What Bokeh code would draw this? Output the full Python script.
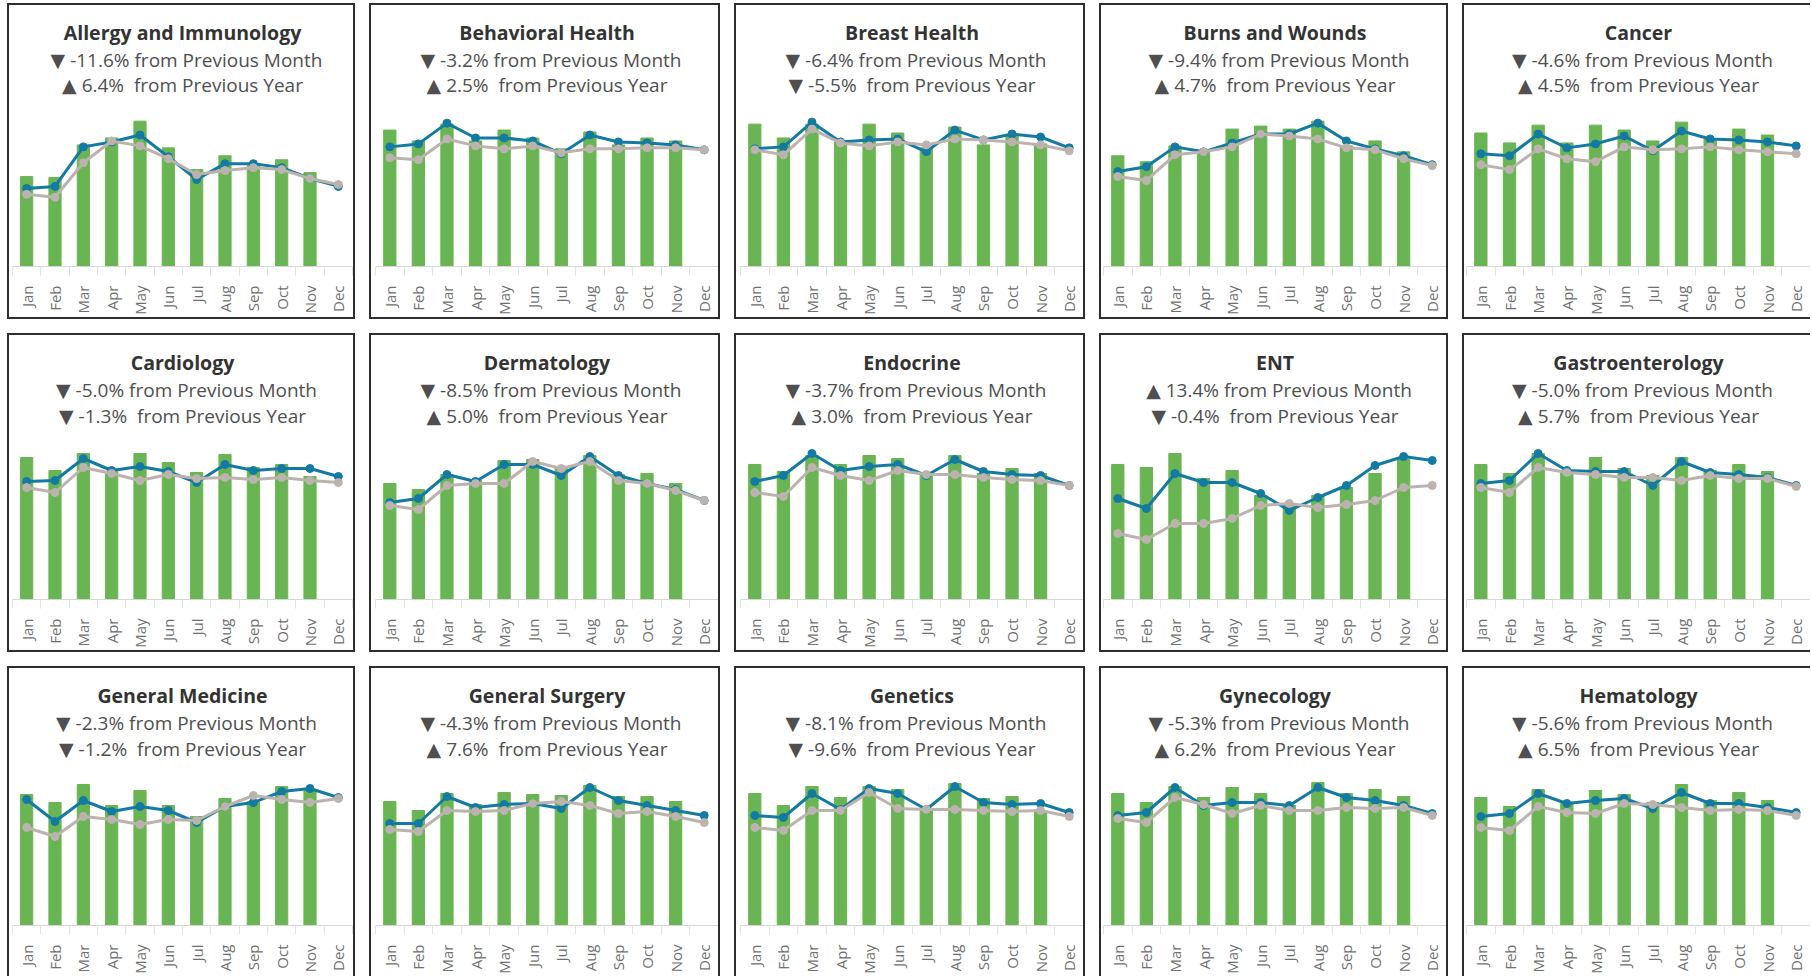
import math
from bokeh.plotting import figure
from bokeh.models import Range1d, FixedTicker
from bokeh.layouts import row, column
from bokeh.embed import file_html
from bokeh.resources import INLINE
from bokeh.core.properties import value

months = ["Jan", "Feb", "Mar", "Apr", "May", "Jun", "Jul", "Aug", "Sep", "Oct", "Nov", "Dec"]

departments = ["Allergy and Immunology", "Behavioral Health", "Breast Health", "Burns and Wounds", "Cancer",
               "Cardiology", "Dermatology", "Endocrine", "ENT", "Gastroenterology",
               "General Medicine", "General Surgery", "Genetics", "Gynecology", "Hematology"]

mom_change = [-11.6, -3.2, -6.4, -9.4, -4.6, -5.0, -8.5, -3.7, 13.4, -5.0, -2.3, -4.3, -8.1, -5.3, -5.6]
yoy_change = [6.4, 2.5, -5.5, 4.7, 4.5, -1.3, 5.0, 3.0, -0.4, 5.7, -1.2, 7.6, -9.6, 6.2, 6.5]

# bars = current year volume (Jan-Nov), trend = blue line, prior = grey line
bars_allergy = [91, 90, 123, 130, 147, 120, 98, 112, 102, 108, 95]
trend_allergy = [79, 81, 121, 126, 133, 111, 88, 104, 104, 100, 89, 81]
prior_allergy = [73, 70, 105, 127, 122, 109, 93, 97, 100, 98, 89, 83]

bars_behavioral = [138, 127, 144, 127, 138, 130, 119, 136, 123, 130, 127]
trend_behavioral = [121, 124, 145, 130, 130, 127, 114, 133, 126, 125, 123, 118]
prior_behavioral = [110, 108, 129, 122, 119, 122, 115, 119, 119, 120, 120, 118]

bars_breast = [144, 130, 144, 126, 144, 135, 120, 141, 123, 133, 124]
trend_breast = [119, 121, 146, 126, 128, 129, 116, 138, 128, 134, 131, 120]
prior_breast = [118, 113, 139, 125, 122, 126, 123, 129, 128, 126, 123, 117]

bars_burns = [112, 106, 122, 116, 139, 142, 139, 147, 122, 127, 116]
trend_burns = [96, 101, 121, 116, 125, 134, 134, 145, 127, 119, 112, 103]
prior_burns = [91, 87, 113, 116, 121, 134, 132, 129, 120, 118, 109, 102]

bars_cancer = [135, 125, 143, 125, 143, 138, 127, 146, 129, 139, 133]
trend_cancer = [114, 112, 134, 120, 124, 132, 117, 137, 129, 128, 126, 122]
prior_cancer = [103, 98, 119, 109, 106, 121, 118, 119, 121, 118, 116, 114]

bars_cardiology = [142, 129, 146, 128, 146, 137, 127, 145, 132, 135, 123]
trend_cardiology = [118, 119, 141, 129, 133, 128, 117, 135, 129, 131, 131, 123]
prior_cardiology = [112, 107, 132, 126, 119, 125, 121, 122, 120, 122, 119, 117]

bars_dermatology = [116, 110, 125, 119, 139, 140, 133, 144, 125, 126, 116]
trend_dermatology = [97, 101, 125, 118, 135, 135, 124, 143, 124, 116, 110, 99]
prior_dermatology = [94, 90, 114, 116, 116, 138, 131, 138, 119, 116, 109, 99]

bars_endocrine = [135, 128, 144, 135, 144, 141, 126, 144, 126, 131, 126]
trend_endocrine = [118, 124, 146, 129, 133, 135, 124, 140, 128, 125, 124, 114]
prior_endocrine = [107, 103, 132, 124, 119, 129, 125, 125, 122, 120, 119, 114]

bars_ent = [135, 132, 146, 121, 129, 104, 95, 104, 112, 126, 140]
trend_ent = [101, 91, 126, 117, 117, 106, 89, 102, 114, 134, 143, 139]
prior_ent = [66, 60, 76, 76, 81, 94, 96, 92, 95, 99, 112, 114]

bars_gastro = [135, 126, 146, 129, 142, 131, 124, 142, 129, 135, 128]
trend_gastro = [116, 119, 146, 129, 128, 128, 114, 138, 127, 125, 122, 114]
prior_gastro = [112, 107, 132, 127, 125, 122, 122, 119, 124, 121, 121, 113]

bars_genmed = [131, 123, 141, 120, 135, 120, 109, 127, 124, 139, 135]
trend_genmed = [126, 104, 125, 114, 119, 115, 103, 119, 123, 134, 137, 128]
prior_genmed = [98, 89, 109, 106, 101, 106, 105, 119, 130, 126, 123, 127]

bars_gensurg = [124, 115, 132, 121, 133, 131, 130, 140, 129, 129, 124]
trend_gensurg = [102, 102, 129, 118, 121, 122, 117, 138, 125, 120, 115, 110]
prior_gensurg = [96, 94, 115, 114, 115, 122, 124, 120, 112, 114, 109, 103]

bars_genetics = [132, 120, 139, 128, 139, 136, 117, 142, 127, 129, 113]
trend_genetics = [110, 108, 132, 116, 137, 132, 116, 139, 123, 121, 122, 113]
prior_genetics = [98, 95, 115, 115, 133, 117, 116, 116, 115, 114, 115, 109]

bars_gynecology = [132, 123, 139, 128, 138, 132, 120, 143, 132, 136, 129]
trend_gynecology = [110, 113, 138, 120, 123, 123, 120, 138, 128, 125, 120, 112]
prior_gynecology = [107, 103, 128, 121, 112, 120, 115, 115, 118, 117, 118, 110]

bars_hematology = [128, 119, 136, 122, 135, 131, 123, 141, 125, 133, 125]
trend_hematology = [109, 112, 132, 122, 125, 127, 117, 133, 122, 122, 118, 113]
prior_hematology = [98, 95, 119, 113, 112, 122, 121, 118, 115, 116, 115, 110]

series = [
    (bars_allergy, trend_allergy, prior_allergy),
    (bars_behavioral, trend_behavioral, prior_behavioral),
    (bars_breast, trend_breast, prior_breast),
    (bars_burns, trend_burns, prior_burns),
    (bars_cancer, trend_cancer, prior_cancer),
    (bars_cardiology, trend_cardiology, prior_cardiology),
    (bars_dermatology, trend_dermatology, prior_dermatology),
    (bars_endocrine, trend_endocrine, prior_endocrine),
    (bars_ent, trend_ent, prior_ent),
    (bars_gastro, trend_gastro, prior_gastro),
    (bars_genmed, trend_genmed, prior_genmed),
    (bars_gensurg, trend_gensurg, prior_gensurg),
    (bars_genetics, trend_genetics, prior_genetics),
    (bars_gynecology, trend_gynecology, prior_gynecology),
    (bars_hematology, trend_hematology, prior_hematology),
]

FONT = "Open Sans"
SUB_FONT = "Open Sans, DejaVu Sans"
GREEN = "#6AB553"
BLUE = "#137AA3"
GREY = "#BCB3AF"
BORDER = "#2E2E2E"

COL_W = [344, 347, 347, 345, 346]
COL_LEFT = [3, 4, 4, 2, 2]
COL_RIGHT = [1, 0, 0, 0, 0]
ROW_H = [312, 315, 308]
ROW_BOTTOM = [48, 51, 51]
# text anchors measured down from the top of the panel
TEXT_TOP = (27.0, 54.8, 80.5)


def arrow(v):
    return "\u25BC" if v < 0 else "\u25B2"


def shadow(col, rowi):
    parts = [f"0 -2px 0 0 {BORDER}", f"-2px 0 0 0 {BORDER}", f"-2px -2px 0 0 {BORDER}"]
    if col < 4:
        parts += [f"2px 0 0 0 {BORDER}", f"2px -2px 0 0 {BORDER}"]
    if rowi < 2:
        parts += [f"0 2px 0 0 {BORDER}", f"-2px 2px 0 0 {BORDER}"]
        if col < 4:
            parts += [f"2px 2px 0 0 {BORDER}"]
    return ", ".join(parts)


def make_panel(i):
    col, rowi = i % 5, i // 5
    W = COL_W[col]
    H = ROW_H[rowi]
    bottom = ROW_BOTTOM[rowi]
    frame_h = H - bottom
    p = figure(width=W, height=H, x_range=Range1d(-0.5, 11.5), y_range=Range1d(0, frame_h),
               output_backend="svg", toolbar_location=None, title=None,
               min_border_left=COL_LEFT[col], min_border_right=COL_RIGHT[col],
               min_border_top=0, min_border_bottom=bottom, y_axis_location=None,
               background_fill_color="white", border_fill_color="white")
    p.styles = {"box-shadow": shadow(col, rowi)}
    p.outline_line_color = None
    p.grid.visible = False

    ax = p.xaxis[0]
    ax.ticker = FixedTicker(ticks=list(range(12)), minor_ticks=[k - 0.5 for k in range(13)])
    ax.major_label_overrides = {k: m for k, m in enumerate(months)}
    ax.major_label_orientation = math.pi / 2
    ax.major_label_text_font = FONT
    ax.major_label_text_font_size = "15px"
    ax.major_label_text_color = "#707070"
    ax.major_label_standoff = 10
    ax.axis_line_color = "#D6D6D6"
    ax.major_tick_line_color = None
    ax.major_tick_in = 0
    ax.major_tick_out = 0
    ax.minor_tick_line_color = "#E3E3E3"
    ax.minor_tick_in = 0
    ax.minor_tick_out = 9

    bars, trend, prior = series[i]
    p.vbar(x=list(range(len(bars))), top=bars, width=0.43, color=GREEN)
    xs = list(range(len(trend)))
    p.line(xs, trend, line_width=3, color=BLUE)
    p.scatter(xs, trend, size=8, color=BLUE)
    xs2 = list(range(len(prior)))
    p.line(xs2, prior, line_width=3, color=GREY)
    p.scatter(xs2, prior, size=8, color=GREY)

    t1, t2, t3 = TEXT_TOP
    p.text(x=[5.5], y=[frame_h - t1], text=[departments[i]], text_font=value(FONT),
           text_font_style="bold", text_font_size="19.5px", text_align="center",
           text_baseline="alphabetic", text_color="#333333")
    m = mom_change[i]
    p.text(x=[5.5], y=[frame_h - t2], x_offset=4,
           text=[f"{arrow(m)} {m:.1f}% from Previous Month"], text_font=value(SUB_FONT),
           text_font_size="19px", text_align="center", text_baseline="alphabetic",
           text_color="#4F4F4F")
    y = yoy_change[i]
    p.text(x=[5.5], y=[frame_h - t3],
           text=[f"{arrow(y)} {y:.1f}%\u00a0 from Previous Year"], text_font=value(SUB_FONT),
           text_font_size="19px", text_align="center", text_baseline="alphabetic",
           text_color="#4F4F4F")
    return p


panels = [make_panel(i) for i in range(15)]
layout = column([row(panels[r * 5:(r + 1) * 5], spacing=18) for r in range(3)], spacing=18)
layout.margin = (5, 0, 0, 9)

open("out.html", "w").write(file_html(layout, INLINE))
